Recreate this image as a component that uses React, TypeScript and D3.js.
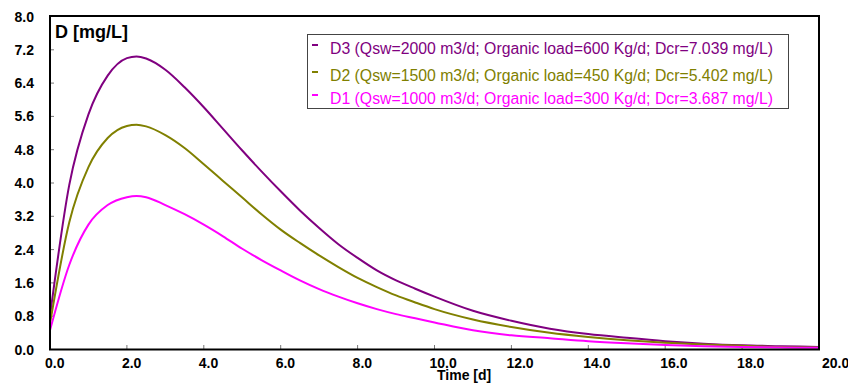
import React, { useEffect, useRef } from "react";
import * as d3 from "d3";

// time axis (days)
const timeDays = [
  0, 0.5, 1, 1.5, 2, 2.25, 2.5, 3, 3.5, 4, 4.5, 5, 5.5, 6, 6.5, 7, 7.5, 8, 8.5,
  9, 9.5, 10, 11, 12, 13, 14, 15, 16, 17, 18, 19, 20,
];

// oxygen deficit D [mg/L]
const d3Values = [
  0.8, 3.95, 5.65, 6.58, 7.0, 7.04, 6.99, 6.72, 6.3, 5.82, 5.3, 4.78, 4.28, 3.8,
  3.34, 2.92, 2.53, 2.2, 1.9, 1.66, 1.46, 1.27, 0.93, 0.69, 0.5, 0.37, 0.28, 0.2,
  0.14, 0.1, 0.08, 0.06,
];
const d2Values = [
  0.62, 3.05, 4.38, 5.08, 5.37, 5.4, 5.36, 5.15, 4.84, 4.45, 4.05, 3.65, 3.25,
  2.88, 2.56, 2.26, 1.98, 1.72, 1.5, 1.3, 1.13, 0.97, 0.72, 0.54, 0.4, 0.3, 0.22,
  0.16, 0.12, 0.09, 0.06, 0.05,
];
const d1Values = [
  0.46, 2.03, 3.0, 3.47, 3.66, 3.69, 3.66, 3.47, 3.25, 3.0, 2.72, 2.42, 2.15,
  1.9, 1.66, 1.45, 1.27, 1.11, 0.97, 0.85, 0.75, 0.65, 0.46, 0.34, 0.27, 0.2,
  0.15, 0.11, 0.08, 0.06, 0.05, 0.04,
];

const seriesNames = [
  "D3 (Qsw=2000 m3/d; Organic load=600 Kg/d; Dcr=7.039 mg/L)",
  "D2 (Qsw=1500 m3/d; Organic load=450 Kg/d; Dcr=5.402 mg/L)",
  "D1 (Qsw=1000 m3/d; Organic load=300 Kg/d; Dcr=3.687 mg/L)",
];
const seriesColors = ["#800080", "#808000", "#ff00ff"];

const yTicks = [0, 0.8, 1.6, 2.4, 3.2, 4.0, 4.8, 5.6, 6.4, 7.2, 8.0];
const xTicks = [0, 2, 4, 6, 8, 10, 12, 14, 16, 18, 20];

const W = 848;
const H = 383;
const FONT = "Liberation Sans, Arial, sans-serif";

const App: React.FC = () => {
  const ref = useRef<SVGSVGElement | null>(null);

  useEffect(() => {
    if (!ref.current) return;
    const svg = d3.select(ref.current);
    svg.selectAll("*").remove();

    const x = d3.scaleLinear().domain([0, 20]).range([50, 819]);
    const y = d3.scaleLinear().domain([0, 8]).range([349.5, 16.5]);

    svg.append("rect").attr("width", W).attr("height", H).attr("fill", "#fff");

    // tick marks (inside the frame)
    svg
      .append("g")
      .selectAll("line")
      .data(yTicks)
      .join("line")
      .attr("x1", 50)
      .attr("x2", 54)
      .attr("y1", (d) => y(d))
      .attr("y2", (d) => y(d))
      .attr("stroke", "#777")
      .attr("stroke-width", 1);
    svg
      .append("g")
      .selectAll("line")
      .data(xTicks)
      .join("line")
      .attr("x1", (d) => x(d))
      .attr("x2", (d) => x(d))
      .attr("y1", 349.5)
      .attr("y2", 345)
      .attr("stroke", "#777")
      .attr("stroke-width", 1);

    // y tick labels
    svg
      .append("g")
      .selectAll("text")
      .data(yTicks)
      .join("text")
      .attr("x", 34)
      .attr("y", (d) => y(d) + 5)
      .attr("text-anchor", "end")
      .attr("font-family", FONT)
      .attr("font-weight", "bold")
      .attr("font-size", 14)
      .text((d) => d.toFixed(1));

    // x tick labels
    svg
      .append("g")
      .selectAll("text")
      .data(xTicks)
      .join("text")
      .attr("x", (d, i) => x(d) + (i === xTicks.length - 1 ? 3 : -5))
      .attr("y", 368)
      .attr("font-family", FONT)
      .attr("font-weight", "bold")
      .attr("font-size", 14)
      .text((d) => d.toFixed(1));

    // curves
    const allSeries = [d3Values, d2Values, d1Values];
    const line = d3
      .line<number>()
      .x((_, i) => x(timeDays[i]))
      .y((d) => y(d))
      .curve(d3.curveMonotoneX);
    svg
      .append("g")
      .selectAll("path")
      .data(allSeries)
      .join("path")
      .attr("fill", "none")
      .attr("stroke", (_, i) => seriesColors[i])
      .attr("stroke-width", 2)
      .attr("stroke-linejoin", "round")
      .attr("d", (d) => line(d));

    // frame
    svg
      .append("rect")
      .attr("x", 50)
      .attr("y", 16)
      .attr("width", 769)
      .attr("height", 333.5)
      .attr("fill", "none")
      .attr("stroke", "#000")
      .attr("stroke-width", 2);

    // axis titles
    svg
      .append("text")
      .attr("x", 55)
      .attr("y", 38)
      .attr("font-family", FONT)
      .attr("font-weight", "bold")
      .attr("font-size", 18)
      .text("D [mg/L]");
    svg
      .append("text")
      .attr("x", 437)
      .attr("y", 380)
      .attr("font-family", FONT)
      .attr("font-weight", "bold")
      .attr("font-size", 14)
      .text("Time [d]");

    // legend
    const legend = svg.append("g");
    legend
      .append("rect")
      .attr("x", 307.5)
      .attr("y", 34.5)
      .attr("width", 481)
      .attr("height", 74)
      .attr("fill", "#fff")
      .attr("stroke", "#444")
      .attr("stroke-width", 1);
    const baselines = [54, 81, 104];
    const items = legend.selectAll("g").data(seriesNames).join("g");
    items
      .append("line")
      .attr("x1", 312)
      .attr("x2", 318)
      .attr("y1", (_, i) => baselines[i] - 9)
      .attr("y2", (_, i) => baselines[i] - 9)
      .attr("stroke", (_, i) => seriesColors[i])
      .attr("stroke-width", 2);
    items
      .append("text")
      .attr("x", 330)
      .attr("y", (_, i) => baselines[i])
      .attr("fill", (_, i) => seriesColors[i])
      .attr("font-family", FONT)
      .attr("font-size", 15.8)
      .text((d) => d);
  }, []);

  return (
    <svg
      ref={ref}
      width={W}
      height={H}
      style={{ position: "absolute", left: 0, top: 0 }}
    />
  );
};

export default App;
